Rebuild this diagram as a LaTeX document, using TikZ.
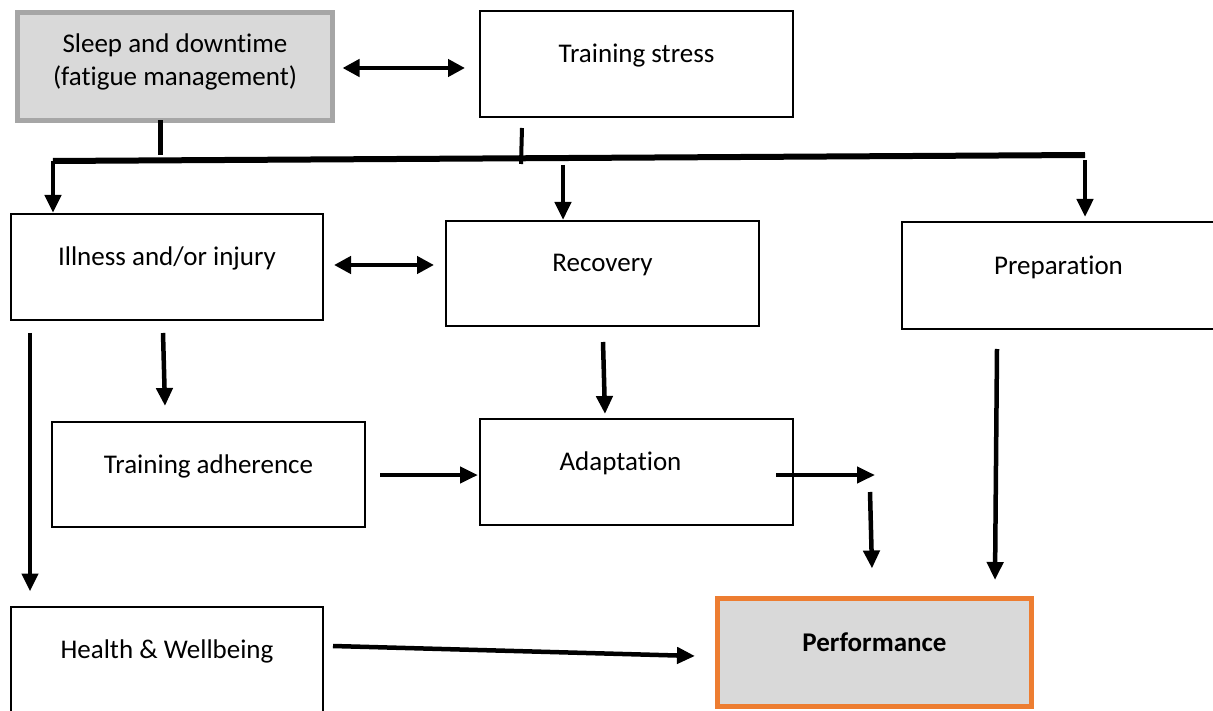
\documentclass[tikz,border=0pt]{standalone}
\usepackage{fontspec}
\setmainfont{Carlito}[Ligatures={NoCommon,NoContextual}]
\usetikzlibrary{arrows.meta,calc}
\definecolor{boxgray}{HTML}{D9D9D9}
\definecolor{sleepgray}{HTML}{A6A6A6}
\definecolor{perforange}{HTML}{ED7D31}
\begin{document}
\begin{tikzpicture}[x=1pt,y=-1pt,
 box/.style={draw=black,line width=2pt,rectangle,outer sep=0pt,inner sep=0pt,minimum width=313pt,minimum height=106pt},
 arr/.style={line width=4.5pt,-{Triangle[length=18pt,width=16pt]}},
 darr/.style={line width=4.5pt,{Triangle[length=17pt,width=17pt]}-{Triangle[length=17pt,width=17pt]}},
 busline/.style={line width=6pt},
 lbl/.style={font=\fontsize{27}{33}\selectfont,inner sep=0pt}
]
\useasboundingbox (0,0) rectangle (1213,711);
\clip (0,0) rectangle (1213,711);

% boxes
\node[box,minimum width=315pt,minimum height=108pt,line width=5pt,draw=sleepgray,fill=boxgray,
  label={[lbl,align=center,yshift=5pt]center:Sleep and downtime\\(fatigue management)}] (sleep) at (175,66.5) {};
\node[box,label={[lbl,yshift=8.5pt]center:Training stress}] (stress) at (636.5,64) {};
\node[box,minimum width=312pt,label={[lbl,yshift=8.5pt]center:Illness and/or injury}] (ill) at (167,267) {};
\node[box,minimum height=105pt,label={[lbl,yshift=8.5pt]center:Recovery}] (rec) at (602.5,273.5) {};
\node[box,minimum height=107pt,label={[lbl,yshift=8.5pt]center:Preparation}] (prep) at (1058.5,275.5) {};
\node[box,minimum height=105pt,label={[lbl,yshift=8.5pt]center:Training adherence}] (tadh) at (208.5,474.5) {};
\node[box,label={[lbl,yshift=8.5pt,xshift=-16pt]center:Adaptation}] (adapt) at (636.5,472) {};
\node[box,minimum width=312pt,label={[lbl,yshift=8pt]center:Health \& Wellbeing}] (health) at (167,659.5) {};
\node[box,minimum width=314pt,minimum height=108pt,line width=5pt,draw=perforange,fill=boxgray,
  label={[lbl,yshift=10pt]center:\bfseries Performance}] (perf) at (874.5,652.5) {};

% bus
\coordinate (busL) at (53,161);
\coordinate (busR) at (1085,155);
\coordinate (busM) at (563,165);
\draw[line width=5pt] ($(sleep.south)+(-15,0)$) -- ($(sleep.south)+(-15,35)$);
\draw[line width=4pt] ($(stress.south)+(-114.5,11)$) -- ($(stress.south)+(-115.5,47)$);
\draw[busline] (busL) -- (busR);
\draw[arr,shorten >=1pt] (busL) -- (busL |- ill.north);
\draw[arr,shorten >=1pt] (busM) -- (busM |- rec.north);
\draw[arr,shorten >=5pt] ($(busR)+(0,5)$) -- (busR |- prep.north);

% connectors
\draw[darr] ($(sleep.east)+(10,1.5)$) -- ($(stress.west)+(-15,4)$);
\draw[darr] ($(ill.east)+(11,-2)$) -- ($(rec.west)+(-12,-8.5)$);
\draw[arr] ($(ill.south west)+(19,13)$) -- ($(health.north west)+(19,-15)$);
\draw[arr] ($(ill.south)+(-4,13)$) -- ($(tadh.north)+(-43.5,-16)$);
\draw[arr] ($(tadh.east)+(15,0.5)$) -- ($(adapt.west)+(-2,3)$);
\draw[arr] ($(rec.south)+(0.5,16)$) -- ($(adapt.north)+(-31.5,-5)$);
\coordinate (free1) at (875,475);
\draw[arr] ($(adapt.east)+(-17,3)$) -- (free1);
\coordinate (free2) at (870,492);
\draw[arr] (free2) -- ($(perf.north)+(-2.5,-30)$);
\draw[arr] ($(prep.south)+(-61.5,20)$) -- ($(perf.north east)+(-36.5,-18.5)$);
\draw[arr] ($(health.east)+(10,-13.5)$) -- ($(perf.west)+(-22.5,3.5)$);
\end{tikzpicture}
\end{document}
